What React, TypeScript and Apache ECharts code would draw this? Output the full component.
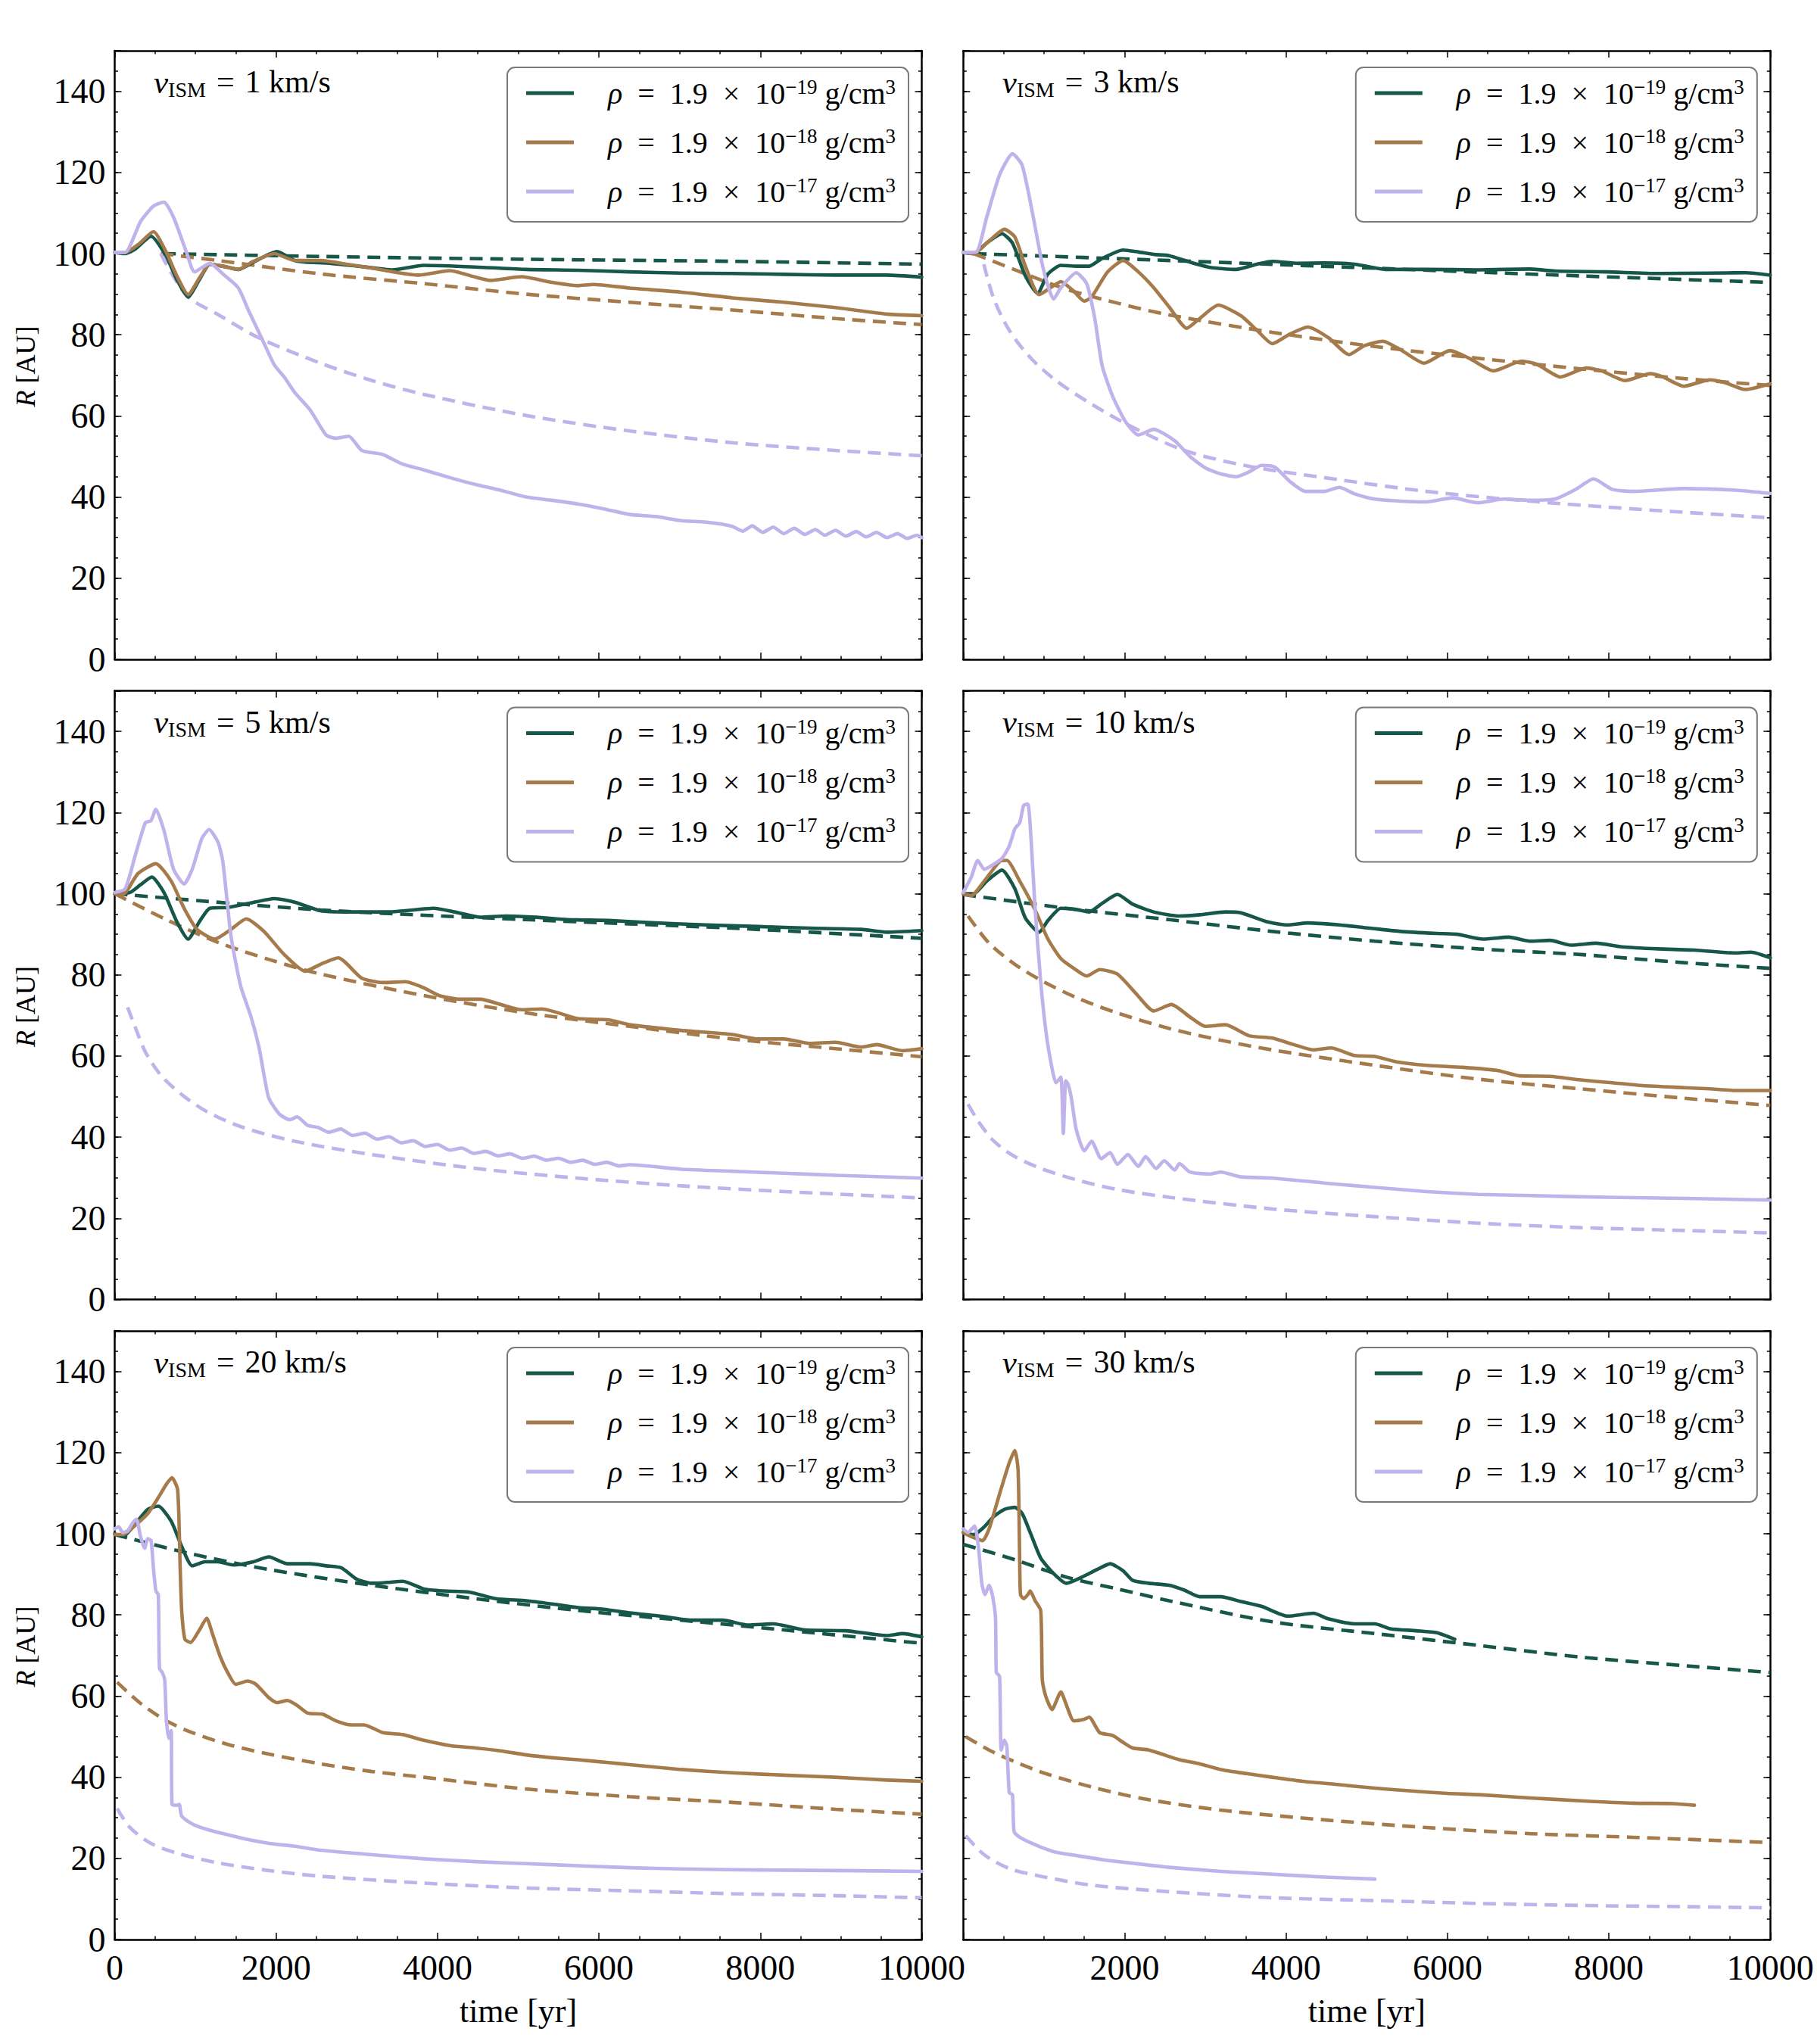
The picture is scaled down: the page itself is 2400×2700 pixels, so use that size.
import { useEffect, useRef } from 'react';
import * as echarts from 'echarts';

type Pt = [number, number]; // [time in yr, R in AU]

// ---- v_ISM = 1 km/s ----
const v1Low: Pt[] = [[0,100.3],[130,100],[260,101.2],[450,104.3],[640,99.3],[770,93.6],[910,89.3],[1050,93.6],[1180,97.4],[1340,96.9],[1530,96.1],[1720,97.9],[2010,100.5],[2230,98.3],[2360,97.9],[2680,97.6],[3060,96.8],[3440,96],[3830,97.1],[4470,96.7],[5100,96.1],[5740,95.9],[6380,95.5],[7020,95.2],[7650,95.1],[8290,94.9],[8930,94.7],[9570,94.7],[10000,94.2]];
const v1LowModel: Pt[] = [[600,100],[2550,99.3],[5100,98.6],[7650,98.1],[10000,97.4]];
const v1Mid: Pt[] = [[0,100.3],[130,100.3],[290,102.2],[480,105.4],[640,100.3],[770,94.5],[910,89.9],[1050,94],[1180,97.4],[1340,96.9],[1530,96.1],[1720,98.1],[1980,100],[2230,98.3],[2550,98.3],[2870,97.4],[3190,96.4],[3510,95.3],[3760,94.7],[4150,95.8],[4470,94.2],[4660,93.4],[5040,94.3],[5420,92.9],[5740,92.1],[5930,92.4],[6380,91.5],[7020,90.5],[7650,89.1],[8290,88],[8930,86.7],[9570,85.1],[10000,84.7]];
const v1MidModel: Pt[] = [[570,100],[1280,98.3],[2550,95],[3830,92.6],[5100,90],[6380,88],[7650,86.1],[8930,84],[10000,82.5]];
const v1High: Pt[] = [[0,100.3],[130,100.3],[320,107.9],[480,111.7],[610,112.7],[730,108.9],[890,100.3],[990,95.5],[1180,97.6],[1340,95],[1530,91.6],[1660,85.9],[1820,79.2],[1980,72.5],[2100,69.6],[2230,65.8],[2420,61.5],[2620,55.3],[2740,54.5],[2900,55],[3060,51.5],[3320,50.5],[3570,48.1],[3830,46.7],[4150,44.8],[4470,43.1],[4780,41.7],[5100,40],[5420,39.2],[5740,38.3],[6060,37.1],[6380,35.7],[6700,35.2],[7020,34.2],[7330,33.8],[7650,32.8],[7780,31.6],[7900,32.9],[8030,31.3],[8160,32.6],[8290,31.0],[8420,32.3],[8550,30.8],[8680,32.0],[8800,30.6],[8930,31.8],[9060,30.4],[9190,31.5],[9310,30.2],[9440,31.3],[9570,30.0],[9700,31.0],[9820,29.8],[9940,30.6],[10000,30.0]];
const v1HighModel: Pt[] = [[570,100],[890,89.7],[1280,85],[1790,79.2],[2550,73],[3190,68.7],[3830,65.3],[5100,60.1],[6380,56.3],[7650,53.4],[8930,51.5],[10000,50.2]];

// ---- v_ISM = 3 km/s ----
const v3Low: Pt[] = [[0,100.3],[130,100],[290,102.6],[480,104.9],[610,102.6],[770,94.5],[920,90.2],[1050,95],[1210,97.1],[1400,96.9],[1560,96.9],[1720,98.8],[1980,100.9],[2170,100.4],[2360,99.8],[2550,99.5],[2810,97.9],[3060,96.6],[3380,96.1],[3640,97.4],[3830,98.1],[4150,97.6],[4470,97.7],[4850,97.4],[5230,96.1],[5740,96.1],[6380,96],[7020,96.2],[7330,95.7],[7970,95.5],[8610,95.1],[9250,95.2],[9700,95.3],[10000,94.7]];
const v3LowModel: Pt[] = [[130,100],[2550,98.3],[5100,96.4],[7650,94.5],[10000,92.9]];
const v3Mid: Pt[] = [[0,100.3],[130,100],[320,103.1],[510,106],[640,104.1],[770,96.9],[940,89.9],[1120,92.1],[1210,93.1],[1370,90.7],[1500,88.3],[1590,89.3],[1790,95.5],[1980,98.3],[2170,95.5],[2360,91.6],[2550,86.9],[2770,81.6],[2930,84],[3160,87.3],[3440,84.7],[3640,81.1],[3830,77.8],[4050,80.2],[4270,81.9],[4530,79.2],[4780,75.1],[4970,77.3],[5200,78.4],[5420,76.3],[5710,73],[6030,76.1],[6280,74.1],[6570,71.1],[6920,73.5],[7110,72.7],[7400,69.6],[7720,71.8],[7910,71.1],[8200,68.7],[8510,70.4],[8670,69.6],[8930,67.3],[9250,68.9],[9440,68.2],[9690,66.5],[10000,67.9]];
const v3MidModel: Pt[] = [[130,100],[640,96],[1280,91.2],[1910,87.8],[2550,84.9],[3830,80.6],[5100,77.1],[6380,74.2],[7650,71.6],[8930,69.2],[10000,67.5]];
const v3High: Pt[] = [[0,100.3],[160,100.4],[290,108.9],[450,119.4],[610,124.6],[730,121.8],[860,109.8],[990,96.4],[1120,88.8],[1210,91.6],[1400,95.3],[1530,92.6],[1630,84],[1720,72.5],[1850,64.9],[2010,58.6],[2170,55.3],[2360,56.7],[2620,53.9],[2810,50],[3000,47.2],[3190,45.7],[3380,45],[3540,46.2],[3700,47.8],[3860,47.4],[4050,43.8],[4240,41.4],[4470,41.4],[4660,42.4],[4850,40.8],[5100,39.5],[5420,39],[5740,38.8],[6060,39.8],[6380,38.6],[6700,39.5],[7020,39.2],[7330,39.5],[7590,41.9],[7810,44.5],[8040,41.9],[8290,41.4],[8930,42.1],[9570,41.7],[10000,40.9]];
const v3HighModel: Pt[] = [[255,97.4],[380,88.8],[570,81.1],[830,74.4],[1150,68.7],[1590,62.9],[2100,57.2],[2740,51.5],[3510,47.7],[4470,44.8],[5740,41.4],[7020,39],[8290,37.1],[10000,34.9]];

// ---- v_ISM = 5 km/s ----
const v5Low: Pt[] = [[0,100],[190,100.3],[320,102.2],[460,104.1],[610,100.3],[770,93.1],[910,88.8],[1050,93.1],[1180,96.4],[1400,96.6],[1660,97.6],[1980,98.8],[2230,97.9],[2550,95.8],[2870,95.5],[3380,95.5],[3700,96],[3950,96.4],[4210,95.5],[4530,94.2],[4850,94.5],[5230,94.2],[5610,93.6],[6120,93.4],[6700,92.8],[7330,92.3],[7970,91.9],[8610,91.5],[9250,91.2],[9570,90.5],[10000,90.9]];
const v5LowModel: Pt[] = [[0,100],[2550,96],[5100,93.6],[7650,91.5],[10000,89]];
const v5Mid: Pt[] = [[0,100],[100,99.8],[290,105],[510,107.4],[700,103.1],[860,96.4],[1020,91.2],[1240,88.8],[1440,91.2],[1630,93.8],[1850,90.7],[2100,85],[2360,80.9],[2550,82.6],[2770,84.2],[3060,79.2],[3320,78.1],[3600,78.3],[3830,76.8],[4020,74.9],[4270,74],[4530,74],[4780,72.7],[5040,71.4],[5290,71.6],[5740,69.2],[6120,68.9],[6380,67.7],[7020,66.3],[7650,65.3],[7970,64.2],[8290,64.2],[8610,63.1],[8930,63.4],[9250,62.2],[9440,62.8],[9760,61.3],[10000,61.8]];
const v5MidModel: Pt[] = [[0,100],[640,93.6],[1280,88],[1910,83.8],[2550,80.2],[3830,74.9],[5100,70.6],[6380,67.3],[7650,64.2],[8930,61.8],[10000,59.8]];
const v5High: Pt[] = [[0,100.3],[130,101.2],[260,109.8],[380,117.5],[450,118],[510,120.8],[610,115.6],[730,106],[860,102.4],[960,106],[1080,113.6],[1170,115.8],[1280,112.7],[1340,107.9],[1440,89.7],[1560,77.3],[1690,69.6],[1790,62],[1850,55.3],[1910,49.6],[2040,45.7],[2170,44.3],[2260,45],[2390,42.9],[2520,42.4],[2650,41.2],[2800,42.0],[2950,40.4],[3100,41.0],[3250,39.5],[3400,40.1],[3550,38.6],[3700,39.1],[3850,37.7],[4000,38.2],[4150,36.8],[4300,37.3],[4450,36.0],[4600,36.5],[4750,35.4],[4900,35.9],[5050,34.8],[5200,35.3],[5350,34.3],[5500,34.8],[5650,33.8],[5800,34.3],[5950,33.3],[6100,33.8],[6250,32.9],[6380,33.2],[7020,32.1],[7650,31.6],[8290,31.1],[8930,30.6],[10000,29.9]];
const v5HighModel: Pt[] = [[160,72],[260,66.8],[380,61],[570,55.3],[830,50.5],[1150,46.2],[1590,42.4],[2230,39],[3190,35.7],[4470,32.3],[5740,29.9],[7020,28],[8290,26.6],[10000,25]];

// ---- v_ISM = 10 km/s ----
const v10Low: Pt[] = [[0,100],[130,100],[290,103.1],[480,105.8],[640,101.2],[770,94],[940,90.5],[1050,93.4],[1210,96.4],[1400,96.1],[1560,95.5],[1720,97.6],[1910,99.8],[2100,97.4],[2360,95.5],[2680,94.5],[2930,94.8],[3250,95.5],[3440,95.3],[3760,93.1],[4020,92.3],[4270,92.8],[4660,92.3],[5040,91.5],[5420,90.7],[5870,90.2],[6120,90],[6440,88.8],[6760,89.3],[7020,88.3],[7270,88.5],[7530,87.3],[7840,87.8],[8160,86.9],[8610,86.4],[9060,86.1],[9570,85.4],[9760,85.6],[10000,84.2]];
const v10LowModel: Pt[] = [[0,99.8],[1280,96.4],[2550,93.6],[3830,90.7],[5100,88.3],[6380,86.4],[7650,85],[8930,83],[10000,81.6]];
const v10Mid: Pt[] = [[0,100],[100,99.5],[260,103.1],[450,107.9],[540,108.2],[700,103.1],[890,96],[1050,88.8],[1210,84],[1370,81.6],[1530,79.7],[1690,81.3],[1910,80.2],[2140,75.4],[2360,71.1],[2580,72.7],[2810,69.6],[3000,67.3],[3250,67.7],[3540,65],[3830,64.4],[4080,62.9],[4340,61.5],[4560,62],[4850,60.1],[5100,59.9],[5360,58.6],[5740,57.7],[6190,57.2],[6630,56.4],[6890,55.1],[7270,55],[7650,54.1],[8040,53.4],[8420,52.7],[8930,52.2],[9250,51.9],[9570,51.5],[10000,51.5]];
const v10MidModel: Pt[] = [[60,94.5],[320,87.8],[640,82.6],[960,78.7],[1400,74.4],[1910,70.6],[2550,66.8],[3190,63.9],[3830,61.5],[5100,57.7],[6380,54.3],[7650,51.9],[8930,49.6],[10000,47.8]];
const v10High: Pt[] = [[0,100.3],[100,104.1],[180,108.2],[260,106],[350,106.9],[480,108.7],[570,111.7],[640,116],[700,117.5],[750,121.8],[800,122.1],[840,113.6],[890,96.4],[960,78.3],[1020,66.8],[1080,59.1],[1150,53.4],[1210,54.8],[1240,40.9],[1270,53.9],[1300,53],[1340,49.6],[1400,41.9],[1500,36.6],[1590,39],[1710,34.7],[1820,36.2],[1910,33.3],[2040,35.7],[2170,32.8],[2260,35.2],[2390,32.3],[2490,34.2],[2620,31.9],[2680,33.5],[2810,31.4],[3060,30.9],[3190,31.4],[3440,30.2],[3830,29.9],[4470,28.7],[5100,27.6],[5740,26.6],[6380,25.9],[7020,25.6],[7650,25.3],[8290,25.1],[8930,24.9],[10000,24.5]];
const v10HighModel: Pt[] = [[60,48.1],[190,43.8],[380,39],[640,35.2],[960,32.3],[1400,29.5],[1910,27.1],[2550,25.2],[3830,22.3],[5100,20.4],[6380,18.8],[7650,17.7],[8930,17],[10000,16.4]];

// ---- v_ISM = 20 km/s ----
const v20Low: Pt[] = [[0,100],[100,99.3],[260,102.6],[410,106],[540,106.8],[700,103.1],[830,96.9],[960,92.1],[1120,93.1],[1280,93.1],[1470,92.3],[1720,93.1],[1910,94.3],[2140,92.6],[2420,92.6],[2620,92.1],[2810,91.6],[3000,88.8],[3190,87.8],[3380,88],[3570,88.3],[3830,86.4],[4080,85.9],[4400,85.6],[4720,84],[5100,83.5],[5420,82.7],[5740,81.8],[6060,81.4],[6380,80.5],[6760,79.7],[7140,78.7],[7530,78.7],[7850,77.5],[8160,77.8],[8550,76.3],[9060,76.1],[9570,74.9],[9760,75.4],[10000,74.6]];
const v20LowModel: Pt[] = [[0,99.8],[960,95],[1910,91.2],[3190,87.3],[4470,84],[5740,81.1],[7020,78.7],[8290,76.3],[10000,73]];
const v20Mid: Pt[] = [[0,99.8],[100,99.8],[260,102.2],[410,105],[540,108.9],[640,112.2],[710,113.8],[780,110.8],[810,92.6],[830,81.1],[870,74],[940,73.2],[1050,76.3],[1140,79.2],[1210,75.4],[1310,69.6],[1400,65.8],[1500,62.9],[1650,63.7],[1750,62.9],[1910,59.6],[2010,58.4],[2140,58.9],[2260,57.7],[2390,55.8],[2580,55.5],[2740,53.9],[2930,52.9],[3090,52.9],[3320,51],[3570,50.5],[3830,49.1],[4150,47.8],[4470,47.2],[4780,46.5],[5100,45.5],[5420,44.8],[5740,44.3],[6120,43.6],[6380,43.1],[7020,41.9],[7650,41.1],[8290,40.5],[8930,40],[9570,39.3],[10000,39]];
const v20MidModel: Pt[] = [[30,63.4],[320,58.2],[640,53.9],[960,51],[1400,48.1],[1910,45.7],[2550,43.3],[3190,41.4],[3830,40],[5100,37.1],[6380,35.2],[7650,33.8],[8930,32.1],[10000,30.9]];
const v20High: Pt[] = [[0,101.2],[50,101.7],[100,100.3],[160,100.7],[220,102.6],[270,103.6],[320,99.3],[370,96.4],[410,98.8],[450,98.3],[480,91.6],[510,85.9],[540,85],[555,66.8],[590,65.8],[620,63.9],[640,54.3],[670,49.6],[700,51.5],[710,33.3],[770,33.1],[800,33.3],[830,30.4],[960,28.5],[1150,27.1],[1340,26.1],[1590,24.9],[1910,23.7],[2230,23],[2550,22],[3190,20.9],[3830,19.9],[4470,19.2],[5100,18.7],[5740,18.2],[6380,17.7],[7020,17.4],[7650,17.2],[8290,17.1],[8930,17],[10000,16.8]];
const v20HighModel: Pt[] = [[30,32.3],[190,27.6],[450,23.7],[770,21.3],[1280,18.9],[1910,17],[2550,15.6],[3830,13.9],[5100,12.7],[6380,12],[7650,11.3],[8930,10.8],[10000,10.3]];

// ---- v_ISM = 30 km/s ----
const v30Low: Pt[] = [[0,100.3],[130,99.8],[260,101.7],[380,104.3],[510,106],[640,106.5],[730,105],[830,100.3],[960,94],[1120,90.2],[1280,87.8],[1470,89.3],[1660,91.2],[1820,92.6],[1980,90.9],[2100,88.5],[2300,87.8],[2550,87.3],[2740,86.1],[2930,84.5],[3190,84.5],[3440,83.3],[3700,82.1],[4020,79.7],[4340,80.4],[4530,79],[4850,77.8],[5100,77.8],[5290,76.6],[5610,76.1],[5870,75.6],[6090,74]];
const v30LowModel: Pt[] = [[0,97.4],[640,93.6],[1280,89.3],[1910,86.4],[2550,83.5],[3830,78.3],[5100,75.4],[6380,72.5],[7650,69.6],[8930,67.5],[10000,65.8]];
const v30Mid: Pt[] = [[0,100.3],[100,99.3],[240,98.3],[320,101.2],[450,109.8],[570,117.5],[640,120.5],[680,115.6],[700,92.6],[710,85],[750,84],[800,85],[830,85.9],[890,83.5],[960,81.1],[980,63.9],[1020,60.1],[1100,56.7],[1210,61],[1280,57.7],[1370,53.9],[1500,54.3],[1560,54.8],[1690,51],[1850,50.3],[1980,48.6],[2100,47.2],[2300,46.7],[2460,45.7],[2680,44.3],[2930,43.3],[3190,41.9],[3510,40.9],[3830,40],[4210,39],[4590,38.3],[5100,37.3],[5490,36.7],[6000,36],[6380,35.7],[7020,34.9],[7650,34.2],[8290,33.6],[8800,33.5],[9060,33.1]];
const v30MidModel: Pt[] = [[30,50],[320,46.7],[640,43.8],[1020,40.9],[1590,37.6],[2230,34.7],[3190,31.9],[4470,29.5],[5740,27.6],[7020,26.1],[8290,25.2],[10000,23.9]];
const v30High: Pt[] = [[0,101.2],[60,100.3],[140,101.9],[190,96.4],[230,87.8],[270,85],[320,87.3],[360,85],[400,79.2],[410,65.8],[450,64.9],[470,46.7],[510,49.1],[540,47.6],[570,36.2],[610,35.7],[630,26.6],[700,25.2],[830,23.9],[960,22.8],[1150,21.5],[1400,20.7],[1720,19.7],[2100,18.8],[2550,17.8],[3190,16.8],[3830,16.1],[4470,15.4],[5100,14.9]];
const v30HighModel: Pt[] = [[30,25.6],[260,20.9],[570,17.5],[960,15.6],[1590,13.4],[2550,11.8],[3830,10.3],[5100,9.6],[6380,8.9],[7650,8.4],[8930,8.1],[10000,7.8]];

const speeds = [1, 3, 5, 10, 20, 30];
const runsBySpeed: Pt[][][] = [
  [v1Low, v1Mid, v1High],
  [v3Low, v3Mid, v3High],
  [v5Low, v5Mid, v5High],
  [v10Low, v10Mid, v10High],
  [v20Low, v20Mid, v20High],
  [v30Low, v30Mid, v30High],
];
const modelsBySpeed: Pt[][][] = [
  [v1LowModel, v1MidModel, v1HighModel],
  [v3LowModel, v3MidModel, v3HighModel],
  [v5LowModel, v5MidModel, v5HighModel],
  [v10LowModel, v10MidModel, v10HighModel],
  [v20LowModel, v20MidModel, v20HighModel],
  [v30LowModel, v30MidModel, v30HighModel],
];
const densityExponents = ['−19', '−18', '−17'];
const densityNames = ['ρ = 1.9 × 10⁻¹⁹ g/cm³', 'ρ = 1.9 × 10⁻¹⁸ g/cm³', 'ρ = 1.9 × 10⁻¹⁷ g/cm³'];
const runColors = ['#17574a', '#a67b4b', '#c0b2ea'];

const SERIF = '"Liberation Serif", "Times New Roman", serif';
const SP = '\u2004'; // three-per-em space, as around math operators
const EN = '\u2002'; // en space
const COL_LEFT = [151.5, 1272.3];
const ROW_TOP = [67, 912.5, 1758];
const PANEL_W = 1066;
const PANEL_H = 804;

function buildOption() {
  const grid: any[] = [];
  const xAxis: any[] = [];
  const yAxis: any[] = [];
  const series: any[] = [];
  const legend: any[] = [];
  const graphic: any[] = [];

  const frame = { show: true, onZero: false, lineStyle: { color: '#000', width: 2.5 } };
  const tickLine = { color: '#000', width: 1.5 };
  const tickFont = { color: '#000', fontFamily: SERIF, fontSize: 46 };

  speeds.forEach((speed, i) => {
    const row = Math.floor(i / 2);
    const col = i % 2;
    const left = COL_LEFT[col];
    const top = ROW_TOP[row];
    const bottomRow = row === 2;
    const leftCol = col === 0;

    grid.push({ left, top, width: PANEL_W, height: PANEL_H, containLabel: false });

    const xBase = {
      gridIndex: i, type: 'value', min: 0, max: 10000, interval: 2000,
      axisLine: frame,
      axisTick: { show: true, inside: true, length: 9, lineStyle: tickLine },
      minorTick: { show: true, splitNumber: 4, length: 4.5, lineStyle: tickLine },
      splitLine: { show: false },
      minorSplitLine: { show: false },
    };
    xAxis.push({
      ...xBase, position: 'bottom',
      axisLabel: {
        show: bottomRow, margin: 14, ...tickFont,
        formatter: (v: number) => (col === 1 && v === 0 ? '' : String(v)),
      },
      name: bottomRow ? 'time [yr]' : '',
      nameLocation: 'middle', nameGap: 72,
      nameTextStyle: { ...tickFont, fontSize: 44 },
    });
    xAxis.push({ ...xBase, position: 'top', axisLabel: { show: false } });

    const yMajor = {
      gridIndex: i, type: 'value', min: 0, max: 150, interval: 20,
      axisLine: frame,
      axisTick: { show: true, inside: true, length: 9, lineStyle: tickLine },
      splitLine: { show: false },
    };
    const yMinor = {
      gridIndex: i, type: 'value', min: 0, max: 150, interval: 5,
      axisLine: { show: false, onZero: false },
      axisTick: { show: true, inside: true, length: 4.5, lineStyle: tickLine },
      axisLabel: { show: false },
      splitLine: { show: false },
    };
    yAxis.push({
      ...yMajor, position: 'left',
      axisLabel: {
        show: leftCol, margin: 12, ...tickFont, showMaxLabel: true,
        formatter: (v: number) => (v > 145 ? '' : String(v)),
      },
      name: leftCol ? '{i|R} [AU]' : '',
      nameLocation: 'middle', nameGap: 100, nameRotate: 90,
      nameTextStyle: {
        ...tickFont, fontSize: 36, padding: [0, 30, 0, 0],
        rich: { i: { fontFamily: SERIF, fontSize: 36, fontStyle: 'italic', color: '#000' } },
      },
    });
    yAxis.push({ ...yMinor, position: 'left' });
    yAxis.push({ ...yMajor, position: 'right', axisLabel: { show: false } });
    yAxis.push({ ...yMinor, position: 'right' });

    runsBySpeed[i].forEach((data, k) => {
      series.push({
        type: 'line', name: densityNames[k], data,
        xAxisIndex: 2 * i, yAxisIndex: 4 * i,
        showSymbol: false, symbol: 'none', silent: true, z: 3,
        smooth: 0.2,
        color: runColors[k],
        itemStyle: { color: runColors[k] },
        lineStyle: { color: runColors[k], width: 4.6, join: 'round', cap: 'round' },
      });
    });
    modelsBySpeed[i].forEach((data, k) => {
      series.push({
        type: 'line', name: `model ${k}`, data,
        xAxisIndex: 2 * i, yAxisIndex: 4 * i,
        showSymbol: false, symbol: 'none', silent: true, z: 2,
        smooth: 0.3,
        color: runColors[k],
        lineStyle: { color: runColors[k], width: 4.6, type: [17, 10] },
      });
    });

    legend.push({
      show: true, selectedMode: false, orient: 'vertical',
      left: left + 518.5, top: top + 22,
      padding: [12, 17, 18, 25], itemGap: 21,
      itemWidth: 63, itemHeight: 5, icon: 'rect',
      backgroundColor: '#ffffff', borderColor: '#7a7a7a', borderWidth: 2, borderRadius: 10,
      data: densityNames,
      formatter: (name: string) => {
        const k = densityNames.indexOf(name);
        return `{gap| }{rho|ρ}{m|${EN}=${EN}1.9${EN}×${EN}10}{sup|${densityExponents[k]}}{m| g/cm}{sup|3}`;
      },
      textStyle: {
        color: '#000', fontFamily: SERIF, fontSize: 40, lineHeight: 44,
        rich: {
          gap: { width: 40 },
          rho: { fontFamily: SERIF, fontSize: 40, fontStyle: 'italic', lineHeight: 44, color: '#000' },
          m: { fontFamily: SERIF, fontSize: 40, lineHeight: 44, color: '#000' },
          sup: { fontFamily: SERIF, fontSize: 27, lineHeight: 24, verticalAlign: 'top', color: '#000' },
        },
      },
    });

    graphic.push({
      type: 'text', x: left + 51.5, y: top + 17, silent: true,
      style: {
        text: `{v|v}{sub|ISM}{m|${SP}=${SP}${speed} km/s}`,
        verticalAlign: 'top',
        rich: {
          v: { fontFamily: SERIF, fontSize: 43, fontStyle: 'italic', lineHeight: 48, fill: '#000' },
          sub: { fontFamily: SERIF, fontSize: 28, lineHeight: 26, verticalAlign: 'bottom', fill: '#000' },
          m: { fontFamily: SERIF, fontSize: 42, lineHeight: 48, fill: '#000' },
        },
      },
    });
  });

  return {
    animation: false,
    backgroundColor: '#ffffff',
    grid, xAxis, yAxis, series, legend, graphic,
  };
}

export default function App() {
  const ref = useRef<HTMLDivElement>(null);
  useEffect(() => {
    document.body.style.margin = '0';
    if (!ref.current) return;
    const chart = echarts.init(ref.current, undefined, { renderer: 'svg' });
    chart.setOption(buildOption() as any);
    return () => chart.dispose();
  }, []);
  return <div ref={ref} style={{ width: 2400, height: 2700, background: '#fff' }} />;
}
